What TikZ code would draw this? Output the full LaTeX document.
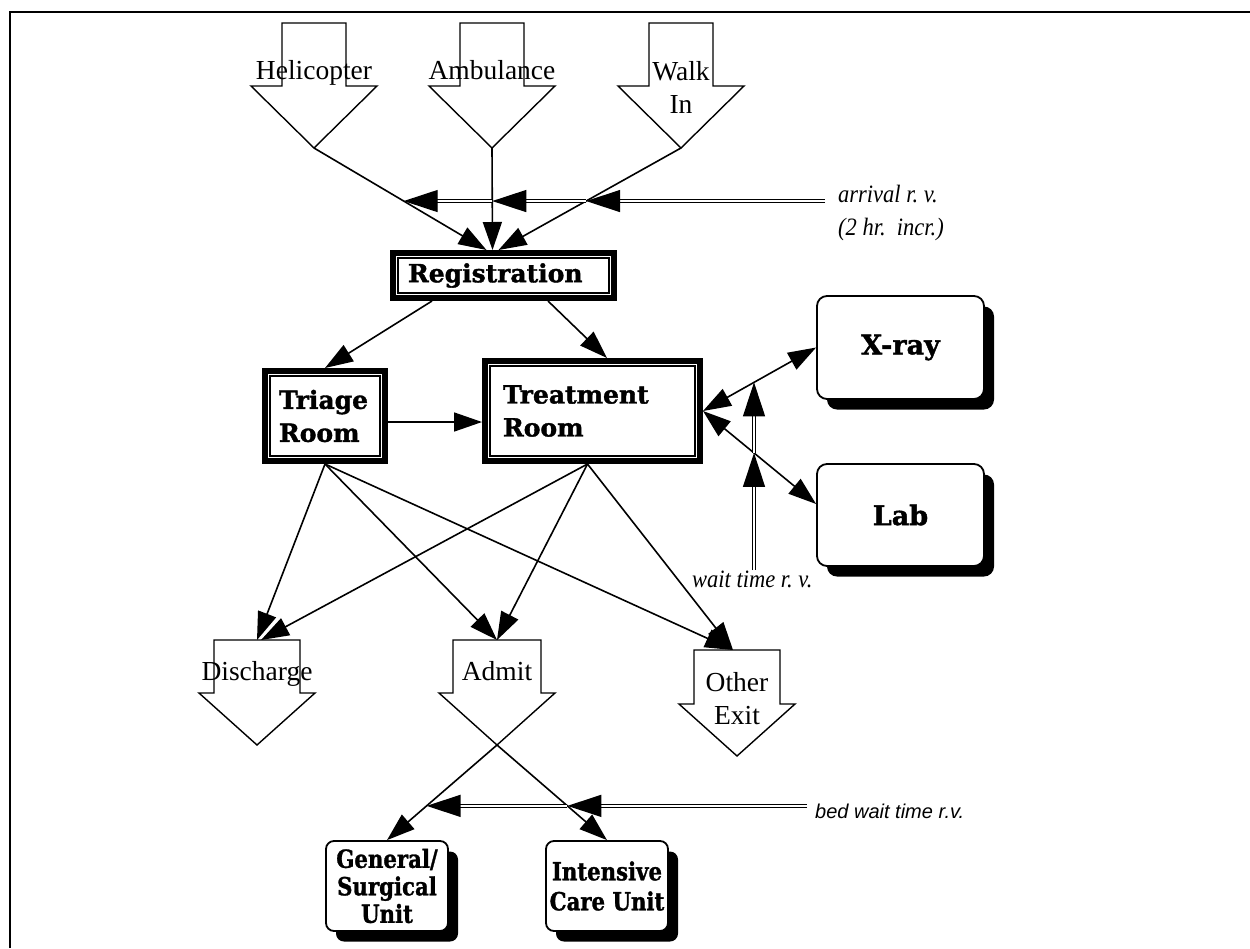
\documentclass[tikz,border=0pt]{standalone}
\usepackage{fontspec}
\usepackage{graphicx}
\setmainfont{Liberation Serif}
\newfontfamily\heavy{DejaVu Serif}[BoldFeatures={FakeBold=1.5}]
\newfontfamily\heavycond{DejaVu Serif}[FakeStretch=0.85, BoldFeatures={FakeBold=1.2}]
\newfontfamily\sansf{Liberation Sans}
\usetikzlibrary{arrows.meta,calc,shadows}
% name, cx, top, shoulder, tip, stem half width, head half width
\newcommand{\downblock}[7]{%
  \draw[blockarr] ({#2-#6},#3) -- ({#2+#6},#3) -- ({#2+#6},#4) -- ({#2+#7},#4) -- (#2,#5) -- ({#2-#7},#4) -- ({#2-#6},#4) -- cycle;
  \coordinate (#1-top) at (#2,#3);
  \coordinate (#1-tip) at (#2,#5);
}
\begin{document}
\begin{tikzpicture}[x=1pt,y=-1pt,
  blockarr/.style={draw, line width=1.4pt, line join=miter, fill=white},
  lbl/.style={font=\fontsize{27.5}{33}\selectfont, inner sep=0pt, align=center},
  tribox/.style={draw, line width=6pt, inner sep=0pt, align=left, font=\heavy\bfseries\fontsize{25}{33}\selectfont},
  rbox/.style={draw, line width=1.8pt, rounded corners=10pt, fill=white, inner sep=0pt, align=center,
    drop shadow={shadow xshift=10pt, shadow yshift=-10.5pt, opacity=1, fill=black}},
  conn/.style={line width=1.6pt, -{Triangle[length=28pt,width=19pt]}},
  bconn/.style={line width=1.6pt, {Triangle[length=28pt,width=19pt]}-{Triangle[length=28pt,width=19pt]}},
  dbl/.style={line width=1.3pt, double, double distance=2pt, -{Triangle[length=34pt,width=22pt]}},
  rv/.style={inner sep=0pt, font=\itshape\fontsize{25}{33}\selectfont},
]
\useasboundingbox (0,0) rectangle (1250,948);
\fill[white] (0,0) rectangle (1250,948);
% frame
\draw[line width=2.5pt] (10,948) -- (10,12) -- (1250,12);

% block arrows
\downblock{heli}{314}{23}{86}{148}{32}{63}
\downblock{amb}{492}{23}{86}{148}{32}{63}
\downblock{walk}{681}{23}{86}{148}{32}{63}
\downblock{dis}{257}{640}{693}{745}{43}{58}
\downblock{adm}{497}{640}{693}{745}{44}{58}
\downblock{oth}{737}{650}{704}{756}{43}{58}

\node[lbl, anchor=base] (tHeli) at (314,79) {Helicopter};
\node[lbl, anchor=base] (tAmb) at (492,79) {Ambulance};
\node[lbl] (tWalk) at (681,87) {Walk\\In};
\node[lbl, anchor=base] (tDis) at (257,680) {Discharge};
\node[lbl, anchor=base] (tAdm) at (497,680) {Admit};
\node[lbl] (tOth) at (737,699) {Other\\Exit};

% triple-border boxes
\node[tribox, minimum width=221pt, minimum height=45pt, text width=191pt] (reg) at (503.5,275.5) {Registration};
\node[tribox, minimum width=120pt, minimum height=90pt, text width=92pt] (tri) at (325,416) {Triage\\Room};
\node[tribox, minimum width=215pt, minimum height=100pt, text width=179pt] (tr) at (592.5,411) {Treatment\\Room};
\foreach \n in {reg,tri,tr}
  \draw[line width=1.2pt] ([shift={(8pt,-8pt)}]\n.north west) rectangle ([shift={(-8pt,8pt)}]\n.south east);

% rounded shadowed boxes
\node[rbox, minimum width=167pt, minimum height=103pt, font=\heavy\bfseries\fontsize{27}{33}\selectfont] (xray) at (900.5,347.5) {X-ray};
\node[rbox, minimum width=167pt, minimum height=102pt, font=\heavy\bfseries\fontsize{27}{33}\selectfont] (lab) at (900.5,515) {Lab};
\node[rbox, rounded corners=8pt, minimum width=122pt, minimum height=90pt, font=\heavycond\bfseries\fontsize{25}{27.5}\selectfont] (gen) at (387,886) {General/\\Surgical\\Unit};
\node[rbox, rounded corners=8pt, minimum width=122pt, minimum height=90pt, font=\heavycond\bfseries\fontsize{25}{30}\selectfont] (icu) at (607,886) {Intensive\\Care Unit};

% connectors
\coordinate (in1) at ([xshift=-17pt]reg.north);
\coordinate (in2) at ([xshift=-11pt]reg.north);
\coordinate (in3) at ([xshift=-5pt]reg.north);
\draw[conn] (heli-tip) -- (in1);
\draw[conn] (amb-tip) -- (in2);
\draw[conn] (walk-tip) -- (in3);

\draw[conn] (reg.south -| 432,0) -- (tri.north);
\draw[conn] (reg.south -| 548,0) -- (tr.north -| 607,0);
\draw[conn] (tri.east |- 0,422) -- (tr.west |- 0,422);

\coordinate (labin) at ([yshift=11pt]lab.west);
\draw[bconn] (tr.east) -- (xray.west);
\draw[bconn] (tr.east) -- (labin);

\coordinate (trs) at ([xshift=-5pt]tr.south);
\draw[conn] (tri.south) -- (dis-top);
\draw[conn] (tri.south) -- (adm-top);
\draw[conn] (tri.south) -- ([xshift=-4pt]oth-top);
\draw[conn] (trs) -- ([xshift=4pt]dis-top);
\draw[conn] (trs) -- (adm-top);
\draw[conn] (trs) -- ([xshift=-4pt]oth-top);

\draw[conn] (adm-tip) -- (gen.north);
\draw[conn] (adm-tip) -- (icu.north);

% random-variable inputs (double lines)
\coordinate (a1) at ($(walk-tip)!0.52!(in3)$);
\coordinate (a2) at ($(amb-tip)!0.52!(in2)$);
\coordinate (a3) at ($(heli-tip)!0.52!(in1)$);
\coordinate (arrR) at (a1 -| 825,0);
\draw[dbl] (arrR) -- (a1);
\draw[dbl] (a1) -- (a2 |- a1);
\draw[dbl] (a2 |- a1) -- (a3 |- a1);

\coordinate (w1) at ($(tr.east)!0.451!(labin)$);
\coordinate (w2) at ($(tr.east)!0.451!(xray.west)$);
\coordinate (wB) at (w1 |- 0,570);
\draw[dbl] (wB) -- (w1);
\draw[dbl] (w1) -- (w1 |- w2);

\coordinate (b1) at ($(adm-tip)!0.64!(icu.north)$);
\coordinate (b2) at ($(adm-tip)!0.64!(gen.north)$);
\coordinate (bR) at (b1 -| 807,0);
\draw[dbl] (bR) -- (b1);
\draw[dbl] (b1) -- (b2 |- b1);

% labels
\node[rv, anchor=base west] (arrl) at (838,202) {\scalebox{0.9}[1]{arrival r.\ v.}};
\node[rv, anchor=base west] (arrl2) at (838,235) {\scalebox{0.9}[1]{(2 hr.\ \ incr.)}};
\node[rv, anchor=base west] (wtl) at (692,587) {\scalebox{0.9}[1]{wait time r.\ v.}};
\node[inner sep=0pt, anchor=base west, font=\sansf\itshape\fontsize{20}{24}\selectfont] (bedl) at (815,818) {bed wait time r.v.};
\end{tikzpicture}
\end{document}
